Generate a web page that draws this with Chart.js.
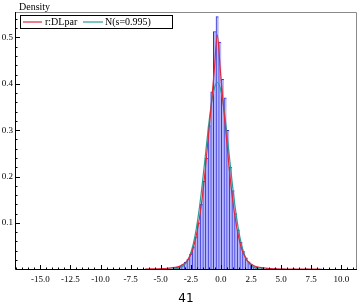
<!DOCTYPE html>
<html>
<head>
<meta charset="utf-8">
<script src="https://cdn.jsdelivr.net/npm/chart.js@4.4.1/dist/chart.umd.min.js"></script>
<style>
  html, body { margin: 0; padding: 0; background: #fff; }
  #wrap { width: 361px; height: 307px; }
</style>
</head>
<body>
<div id="wrap"><canvas id="histChart" width="361" height="307"></canvas></div>
<script>
// Histogram bins (centre of bin, width 0.22) and density
const binCenters = [-5.02, -4.36, -3.82, -3.6, -3.38, -3.16, -2.94, -2.72, -2.5, -2.28, -2.06, -1.84, -1.62, -1.4,
    -1.18, -0.96, -0.74, -0.52, -0.3, -0.08, 0.14, 0.36, 0.58, 0.8, 1.02, 1.24, 1.46, 1.68, 1.9, 2.12, 2.34,
    2.56, 2.78, 3.0, 3.44, 3.88, 4.54, 5.2, 6.08, 7.18, 8.28];
const binDensity = [0.001, 0.002, 0.003, 0.005, 0.007, 0.01, 0.015, 0.022, 0.033, 0.048, 0.07, 0.1, 0.14, 0.19,
    0.24, 0.31, 0.383, 0.513, 0.545, 0.49, 0.41, 0.37, 0.3, 0.22, 0.17, 0.12, 0.085, 0.058, 0.038, 0.025, 0.016,
    0.01, 0.006, 0.004, 0.003, 0.002, 0.002, 0.001, 0.001, 0.001, 0.001];

// r:DLpar fitted density
const dlX = [-6.3, -4.8, -3.8, -3.3, -2.8, -2.55, -2.3, -2.05, -1.8, -1.55, -1.3, -1.05, -0.8, -0.55, -0.3,
    -0.05, 0.2, 0.45, 0.7, 0.95, 1.2, 1.45, 1.7, 1.95, 2.2, 2.7, 3.2, 4.2, 5.7, 8.2];
const dlY = [0.0005, 0.0015, 0.004, 0.008, 0.018, 0.029, 0.046, 0.072, 0.108, 0.155, 0.215, 0.285, 0.355, 0.43, 0.505,
    0.43, 0.355, 0.285, 0.215, 0.155, 0.108, 0.072, 0.046, 0.029, 0.018, 0.008, 0.004, 0.0015, 0.0005, 0.0002];

// N(s=0.995) density
const normX = [-4.3, -3.8, -3.3, -3.05, -2.8, -2.55, -2.3, -2.05, -1.8, -1.55, -1.3, -1.05, -0.8, -0.55, -0.3,
    -0.05, 0.2, 0.45, 0.7, 0.95, 1.2, 1.45, 1.7, 1.95, 2.2, 2.45, 2.7, 3.2, 3.7];
const normY = [0.0001, 0.0009, 0.0045, 0.0092, 0.0178, 0.0322, 0.0545, 0.0868, 0.1303, 0.1838, 0.2438, 0.3042, 0.3556, 0.3904, 0.4029,
    0.3904, 0.3556, 0.3042, 0.2438, 0.1838, 0.1303, 0.0868, 0.0545, 0.0322, 0.0178, 0.0092, 0.0045, 0.0009, 0.0001];

const xTicks = [-15, -12.5, -10, -7.5, -5, -2.5, 0, 2.5, 5, 7.5, 10];
const yTicks = [0.1, 0.2, 0.3, 0.4, 0.5];
const seriesNames = ['r:DLpar', 'N(s=0.995)'];
const bottomLabel = '41';

const RED = '#e0283c';
const TEAL = '#2a9d96';
const SERIF = "'Liberation Serif', 'Times New Roman', serif";

// Frame, inward ticks, legend and "Density" label
const framePlugin = {
    id: 'frame',
    afterDraw(chart) {
        const { ctx, chartArea: a, scales } = chart;
        const xs = scales.x, ys = scales.y;
        ctx.save();

        // frame
        ctx.lineWidth = 1;
        ctx.strokeStyle = '#8a8a8a';
        ctx.beginPath();
        ctx.moveTo(a.left, a.top + 0.5);
        ctx.lineTo(a.right - 0.5, a.top + 0.5);
        ctx.lineTo(a.right - 0.5, a.bottom);
        ctx.stroke();
        ctx.strokeStyle = '#000';
        ctx.beginPath();
        ctx.moveTo(a.left + 0.5, a.top);
        ctx.lineTo(a.left + 0.5, a.bottom - 0.5);
        ctx.lineTo(a.right, a.bottom - 0.5);
        ctx.stroke();

        // x ticks (major + minor, pointing inward)
        ctx.beginPath();
        for (let v = -17; v <= 11; v += 0.5) {
            const px = Math.round(xs.getPixelForValue(v)) + 0.5;
            if (px < a.left || px > a.right) continue;
            const major = xTicks.includes(v);
            ctx.moveTo(px, a.bottom);
            ctx.lineTo(px, a.bottom - (major ? 5 : 2.5));
        }
        // y ticks
        for (let i = 1; i <= 27; i++) {
            const v = i * 0.02;
            const py = Math.round(ys.getPixelForValue(v)) + 0.5;
            const major = i % 5 === 0;
            ctx.moveTo(a.left, py);
            ctx.lineTo(a.left + (major ? 5 : 2.5), py);
        }
        ctx.stroke();

        // Density label
        ctx.fillStyle = '#000';
        ctx.font = '10px ' + SERIF;
        ctx.textBaseline = 'alphabetic';
        ctx.fillText('Density', a.left + 4, 10);

        // legend box
        const lx = a.left + 5, ly = a.top + 3, lw = 152, lh = 13;
        ctx.strokeStyle = '#000';
        ctx.strokeRect(lx + 0.5, ly + 0.5, lw, lh);
        const my = ly + lh / 2 + 0.5;
        ctx.lineWidth = 1.2;
        ctx.strokeStyle = RED;
        ctx.beginPath(); ctx.moveTo(lx + 3, my); ctx.lineTo(lx + 22, my); ctx.stroke();
        ctx.strokeStyle = TEAL;
        ctx.beginPath(); ctx.moveTo(lx + 63, my); ctx.lineTo(lx + 83, my); ctx.stroke();
        ctx.font = '10px ' + SERIF;
        ctx.textBaseline = 'middle';
        ctx.fillText(seriesNames[0], lx + 25, my + 0.5);
        ctx.fillText(seriesNames[1], lx + 85, my + 0.5);
        ctx.restore();
    }
};

const ctx = document.getElementById('histChart').getContext('2d');
new Chart(ctx, {
    type: 'bar',
    data: {
        datasets: [
            {
                type: 'line',
                label: seriesNames[0],
                data: dlX.map((x, i) => ({ x, y: dlY[i] })),
                borderColor: RED,
                borderWidth: 1.2,
                pointRadius: 0,
                cubicInterpolationMode: 'monotone',
                order: 0
            },
            {
                type: 'line',
                label: seriesNames[1],
                data: normX.map((x, i) => ({ x, y: normY[i] })),
                borderColor: TEAL,
                borderWidth: 1.2,
                pointRadius: 0,
                cubicInterpolationMode: 'monotone',
                order: 0
            },
            {
                type: 'bar',
                label: 'hist',
                data: binCenters.map((x, i) => ({ x, y: binDensity[i] })),
                backgroundColor: '#b6b6fb',
                borderColor: '#3030dc',
                borderWidth: { left: 1, top: 1, right: 0, bottom: 0 },
                borderSkipped: false,
                barPercentage: 1,
                categoryPercentage: 1,
                order: 1
            }
        ]
    },
    options: {
        responsive: false,
        animation: false,
        layout: { padding: { top: 12, right: 4, left: 0, bottom: 0 } },
        plugins: {
            legend: { display: false },
            tooltip: { enabled: false }
        },
        scales: {
            x: {
                type: 'linear',
                min: -17.1,
                max: 11.3,
                offset: false,
                grid: { display: false, drawTicks: false, tickLength: 0 },
                border: { display: false },
                afterBuildTicks: axis => { axis.ticks = xTicks.map(v => ({ value: v })); },
                afterFit: axis => { axis.height = 37; },
                ticks: {
                    autoSkip: false,
                    maxRotation: 0,
                    padding: 4,
                    color: '#000',
                    font: { family: SERIF, size: 9 },
                    callback: v => v.toFixed(1)
                },
                title: {
                    display: true,
                    text: bottomLabel,
                    color: '#000',
                    font: { family: "'DejaVu Sans', sans-serif", size: 12 },
                    padding: { top: 8, bottom: 1 }
                }
            },
            y: {
                min: -0.0015,
                max: 0.555,
                grid: { display: false, drawTicks: false, tickLength: 0 },
                border: { display: false },
                afterBuildTicks: axis => { axis.ticks = yTicks.map(v => ({ value: v })); },
                afterFit: axis => { axis.width = 15; },
                ticks: {
                    padding: 2,
                    color: '#000',
                    font: { family: SERIF, size: 9 },
                    callback: v => v.toFixed(1)
                }
            }
        }
    },
    plugins: [framePlugin]
});
</script>
</body>
</html>
